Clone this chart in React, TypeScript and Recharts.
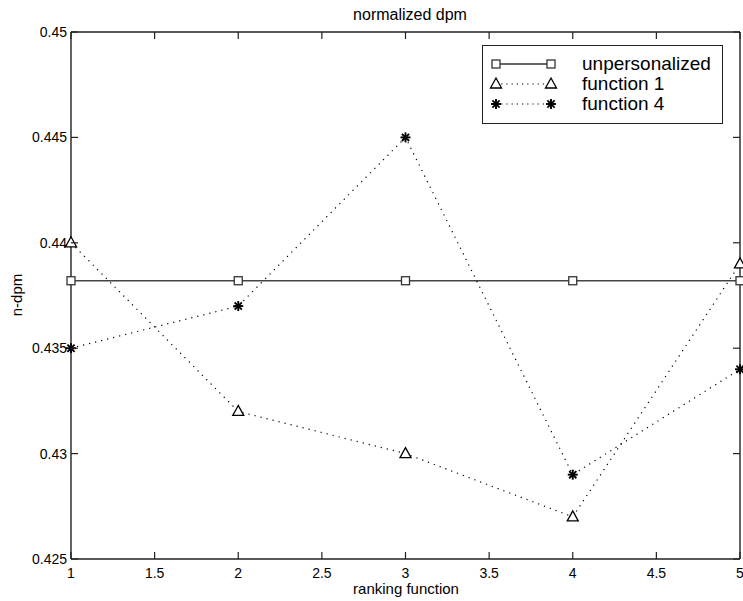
import React from "react";
import { LineChart, Line, XAxis, YAxis } from "recharts";

// Values
const xValues = [1, 2, 3, 4, 5];
const unpersonalized = [0.4382, 0.4382, 0.4382, 0.4382, 0.4382];
const function1 = [0.44, 0.432, 0.43, 0.427, 0.439];
const function4 = [0.435, 0.437, 0.445, 0.429, 0.434];

const xTicks = [1, 1.5, 2, 2.5, 3, 3.5, 4, 4.5, 5];
const xTickLabels = ["1", "1.5", "2", "2.5", "3", "3.5", "4", "4.5", "5"];
const yTicks = [0.425, 0.43, 0.435, 0.44, 0.445, 0.45];
const yTickLabels = ["0.425", "0.43", "0.435", "0.44", "0.445", "0.45"];

const seriesNames = ["unpersonalized", "function 1", "function 4"];

const data = xValues.map((x, i) => ({
  x,
  unpersonalized: unpersonalized[i],
  function1: function1[i],
  function4: function4[i],
}));

const FONT = '"Liberation Sans", Arial, Helvetica, sans-serif';
const AXIS = "#222";
const TICK_LEN = 7;

// tick renderers: inward tick marks, labels only on bottom / left
const BottomTick = (props: any) => {
  const { x, y, payload } = props;
  const i = xTicks.indexOf(payload.value);
  return (
    <g>
      <line x1={x} y1={y} x2={x} y2={y - TICK_LEN} stroke={AXIS} strokeWidth={1.2} />
      <text x={x} y={y + 19} textAnchor="middle" fontSize={14} fontFamily={FONT} fill="#000">
        {xTickLabels[i]}
      </text>
    </g>
  );
};

const TopTick = (props: any) => {
  const { x, y } = props;
  return <line x1={x} y1={y} x2={x} y2={y + TICK_LEN} stroke={AXIS} strokeWidth={1.2} />;
};

const LeftTick = (props: any) => {
  const { x, y, payload } = props;
  const i = yTicks.indexOf(payload.value);
  return (
    <g>
      <line x1={x} y1={y} x2={x + TICK_LEN} y2={y} stroke={AXIS} strokeWidth={1.2} />
      <text x={x - 4} y={y + 5} textAnchor="end" fontSize={14} fontFamily={FONT} fill="#000">
        {yTickLabels[i]}
      </text>
    </g>
  );
};

const RightTick = (props: any) => {
  const { x, y } = props;
  return <line x1={x} y1={y} x2={x - TICK_LEN} y2={y} stroke={AXIS} strokeWidth={1.2} />;
};

// markers
const Square = ({ cx, cy }: { cx: number; cy: number }) => (
  <rect x={cx - 4} y={cy - 4} width={8} height={8} fill="#fff" stroke="#333" strokeWidth={1.3} />
);

const Triangle = ({ cx, cy }: { cx: number; cy: number }) => (
  <polygon
    points={`${cx},${cy - 6} ${cx - 5.5},${cy + 4} ${cx + 5.5},${cy + 4}`}
    fill="#fff"
    stroke="#000"
    strokeWidth={1.3}
  />
);

const Star = ({ cx, cy }: { cx: number; cy: number }) => {
  const r = 5;
  const d = r * 0.72;
  return (
    <g stroke="#000" strokeWidth={1.9}>
      <line x1={cx - r} y1={cy} x2={cx + r} y2={cy} />
      <line x1={cx} y1={cy - r} x2={cx} y2={cy + r} />
      <line x1={cx - d} y1={cy - d} x2={cx + d} y2={cy + d} />
      <line x1={cx - d} y1={cy + d} x2={cx + d} y2={cy - d} />
    </g>
  );
};

const LegendBox = () => {
  const rows = [
    { marker: Square, dash: undefined, stroke: "#333", width: 1.4 },
    { marker: Triangle, dash: "1.2 4", stroke: "#000", width: 1.1 },
    { marker: Star, dash: "1.2 4", stroke: "#000", width: 1.1 },
  ];
  return (
    <div
      style={{
        position: "absolute",
        left: 482,
        top: 45,
        width: 239,
        height: 77,
        border: "1.3px solid #222",
        background: "#fff",
        fontFamily: FONT,
      }}
    >
      <svg width={90} height={77} style={{ position: "absolute", left: 0, top: 0 }}>
        {rows.map((r, i) => {
          const cy = 18 + i * 20;
          const M = r.marker;
          return (
            <g key={i}>
              <line x1={13} y1={cy} x2={68} y2={cy} stroke={r.stroke} strokeWidth={r.width} strokeDasharray={r.dash} />
              <M cx={13} cy={cy} />
              <M cx={68} cy={cy} />
            </g>
          );
        })}
      </svg>
      {seriesNames.map((name, i) => (
        <div
          key={name}
          style={{
            position: "absolute",
            left: 99,
            top: 18 + i * 20 - 11,
            height: 22,
            lineHeight: "22px",
            fontSize: 19,
            color: "#000",
            whiteSpace: "nowrap",
          }}
        >
          {name}
        </div>
      ))}
    </div>
  );
};

export default function App() {
  return (
    <div
      style={{
        position: "absolute",
        left: 0,
        top: 0,
        width: 743,
        height: 601,
        background: "#fff",
        fontFamily: FONT,
        overflow: "hidden",
      }}
    >
      <LineChart width={743} height={601} data={data} margin={{ top: 31, right: 2, bottom: 0, left: 0 }}>
        <XAxis
          dataKey="x"
          type="number"
          domain={[1, 5]}
          ticks={xTicks}
          height={42}
          tickSize={0}
          tickMargin={0}
          tick={<BottomTick />}
          axisLine={{ stroke: AXIS, strokeWidth: 1.4 }}
          tickLine={false}
          interval={0}
        />
        <XAxis
          xAxisId="top"
          orientation="top"
          dataKey="x"
          type="number"
          domain={[1, 5]}
          allowDataOverflow
          ticks={xTicks}
          height={1}
          tickSize={0}
          tickMargin={0}
          tick={<TopTick />}
          axisLine={{ stroke: AXIS, strokeWidth: 1.4 }}
          tickLine={false}
          interval={0}
        />
        <YAxis
          type="number"
          domain={[0.425, 0.45]}
          ticks={yTicks}
          width={71}
          tickSize={0}
          tickMargin={0}
          tick={<LeftTick />}
          axisLine={{ stroke: AXIS, strokeWidth: 1.4 }}
          tickLine={false}
          interval={0}
        />
        <YAxis
          yAxisId="right"
          orientation="right"
          type="number"
          domain={[0.425, 0.45]}
          allowDataOverflow
          ticks={yTicks}
          width={1}
          tickSize={0}
          tickMargin={0}
          tick={<RightTick />}
          axisLine={{ stroke: AXIS, strokeWidth: 1.4 }}
          tickLine={false}
          interval={0}
        />
        {/* invisible series so the top and right frame axes have data */}
        <Line
          xAxisId="top"
          yAxisId="right"
          dataKey="unpersonalized"
          stroke="none"
          dot={false}
          activeDot={false}
          legendType="none"
          isAnimationActive={false}
        />
        <Line
          dataKey="unpersonalized"
          type="linear"
          stroke="#444"
          strokeWidth={1.5}
          isAnimationActive={false}
          activeDot={false}
          dot={(p: any) => <Square key={`sq-${p.index}`} cx={p.cx} cy={p.cy} />}
        />
        <Line
          dataKey="function1"
          type="linear"
          stroke="#000"
          strokeWidth={1.2}
          strokeDasharray="1.2 5"
          isAnimationActive={false}
          activeDot={false}
          dot={(p: any) => <Triangle key={`tr-${p.index}`} cx={p.cx} cy={p.cy} />}
        />
        <Line
          dataKey="function4"
          type="linear"
          stroke="#000"
          strokeWidth={1.2}
          strokeDasharray="1.2 5"
          isAnimationActive={false}
          activeDot={false}
          dot={(p: any) => <Star key={`st-${p.index}`} cx={p.cx} cy={p.cy} />}
        />
      </LineChart>

      <div
        style={{
          position: "absolute",
          left: 310,
          top: 6,
          width: 200,
          textAlign: "center",
          fontSize: 16,
          lineHeight: "18px",
          color: "#000",
        }}
      >
        normalized dpm
      </div>
      <div
        style={{
          position: "absolute",
          left: 306,
          top: 580,
          width: 200,
          textAlign: "center",
          fontSize: 15,
          lineHeight: "18px",
          color: "#000",
        }}
      >
        ranking function
      </div>
      <div
        style={{
          position: "absolute",
          left: 17,
          top: 295,
          transform: "translate(-50%, -50%) rotate(-90deg)",
          fontSize: 15,
          lineHeight: "16px",
          whiteSpace: "nowrap",
          color: "#000",
        }}
      >
        n-dpm
      </div>
      <LegendBox />
    </div>
  );
}
